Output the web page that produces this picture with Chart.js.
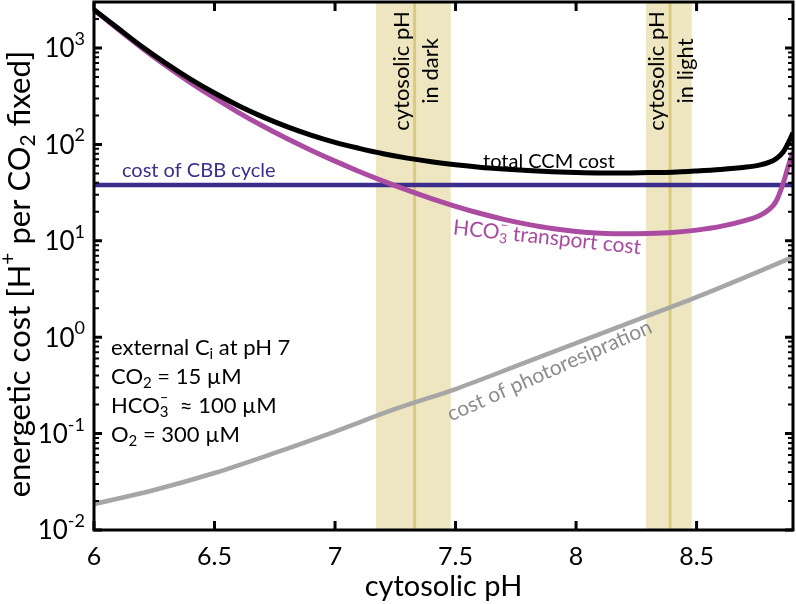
<!DOCTYPE html>
<html>
<head>
<meta charset="utf-8">
<script src="https://cdn.jsdelivr.net/npm/chart.js@4"></script>
<style>
  html, body { margin: 0; padding: 0; background: #fff; }
  #wrap { width: 796px; height: 604px; }
</style>
</head>
<body>
<div id="wrap"><canvas id="myChart"></canvas></div>
<script>
// cytosolic pH grid and costs
const phGrid = [6.0, 6.1, 6.2, 6.3, 6.4, 6.5, 6.6, 6.7, 6.8, 6.9, 7.0, 7.1, 7.2, 7.3, 7.4, 7.5, 7.6, 7.7, 7.8, 7.9, 8.0, 8.1, 8.2, 8.3, 8.4, 8.5, 8.6, 8.7, 8.76, 8.8, 8.83, 8.86, 8.88, 8.9];
const totalCost = [2500, 1600, 1030, 688, 476, 341, 252, 193, 153, 125, 105, 91, 80, 72, 66, 61.5, 58, 55.5, 53.5, 52, 51, 50.5, 50.5, 51, 51.5, 53, 55, 58, 61, 65, 71, 84, 103, 132];
const hco3Cost = [2480, 1567, 995, 650, 438, 303, 214, 155, 115, 87, 67, 52.4, 41.6, 33.5, 27.4, 22.8, 19.3, 16.7, 14.8, 13.4, 12.5, 12.0, 11.8, 11.9, 12.2, 12.9, 14.1, 16.2, 18.2, 21, 25.7, 40, 59, 83];

const phPhoto = [6.0, 6.25, 6.5, 6.75, 7.0, 7.25, 7.5, 7.75, 8.0, 8.25, 8.5, 8.75, 8.9];
const photoCost = [0.0186, 0.026, 0.039, 0.063, 0.105, 0.18, 0.29, 0.50, 0.87, 1.5, 2.6, 4.7, 6.8];

const phCbb = [6.0, 8.9];
const cbbCost = [38, 38];

// shaded pH ranges (dark, light)
const bandLow = [7.17, 8.29];
const bandHigh = [7.48, 8.48];
const bandMid = [7.33, 8.39];
const bandText = [["cytosolic pH", "in dark"], ["cytosolic pH", "in light"]];

const xTicks = [6, 6.5, 7, 7.5, 8, 8.5];
const yExponents = [-2, -1, 0, 1, 2, 3];

const FONT = 'Lato, "Open Sans", sans-serif';

function pts(xs, ys) {
    return xs.map((x, i) => ({ x: x, y: ys[i] }));
}

// text with sub/superscripts; parts are strings or {sub, sup}
function drawRich(ctx, parts, x, y, size, color, align) {
    const small = Math.round(size * 0.68);
    let total = 0;
    const widths = parts.map(p => {
        if (typeof p === 'string') {
            ctx.font = size + 'px ' + FONT;
            return ctx.measureText(p).width;
        }
        ctx.font = small + 'px ' + FONT;
        return Math.max(p.sub ? ctx.measureText(p.sub).width : 0, p.sup ? ctx.measureText(p.sup).width : 0);
    });
    widths.forEach(w => total += w);
    let cx = x;
    if (align === 'center') cx = x - total / 2;
    if (align === 'right') cx = x - total;
    ctx.fillStyle = color;
    ctx.textBaseline = 'middle';
    ctx.textAlign = 'left';
    parts.forEach((p, i) => {
        if (typeof p === 'string') {
            ctx.font = size + 'px ' + FONT;
            ctx.fillText(p, cx, y);
        } else {
            ctx.font = small + 'px ' + FONT;
            if (p.sub) ctx.fillText(p.sub, cx, y + size * 0.28);
            if (p.sup) ctx.fillText(p.sup, cx, y - size * 0.38);
        }
        cx += widths[i];
    });
}

function drawRotated(ctx, x, y, angle, fn) {
    ctx.save();
    ctx.translate(x, y);
    ctx.rotate(angle);
    fn();
    ctx.restore();
}

const decor = {
    id: 'decor',
    beforeDatasetsDraw(chart) {
        const { ctx, chartArea: a, scales: { x } } = chart;
        ctx.save();
        bandLow.forEach((lo, i) => {
            const x0 = x.getPixelForValue(lo), x1 = x.getPixelForValue(bandHigh[i]);
            ctx.fillStyle = '#eee6c0';
            ctx.fillRect(x0, a.top, x1 - x0, a.bottom - a.top);
            const xm = x.getPixelForValue(bandMid[i]);
            ctx.strokeStyle = '#dccb7e';
            ctx.lineWidth = 3;
            ctx.beginPath();
            ctx.moveTo(xm, a.top);
            ctx.lineTo(xm, a.bottom);
            ctx.stroke();
        });
        ctx.restore();
    },
    afterDatasetsDraw(chart) {
        const { ctx, chartArea: a, scales: { x, y } } = chart;
        ctx.save();

        // frame
        ctx.strokeStyle = '#000';
        ctx.lineWidth = 3;
        ctx.strokeRect(a.left, a.top, a.right - a.left, a.bottom - a.top);

        // x ticks, inward on bottom and top
        ctx.lineWidth = 3;
        xTicks.forEach(v => {
            const px = x.getPixelForValue(v);
            ctx.beginPath();
            ctx.moveTo(px, a.bottom); ctx.lineTo(px, a.bottom - 9);
            ctx.moveTo(px, a.top); ctx.lineTo(px, a.top + 9);
            ctx.stroke();
            ctx.font = '25px ' + FONT;
            ctx.fillStyle = '#000';
            ctx.textAlign = 'center';
            ctx.textBaseline = 'middle';
            ctx.fillText(String(v), px, a.bottom + 27);
        });

        // y ticks, log minor ticks, inward on left and right
        yExponents.forEach(e => {
            for (let m = 1; m < 10; m++) {
                const v = m * Math.pow(10, e);
                if (v > y.max) break;
                const py = y.getPixelForValue(v);
                const len = m === 1 ? 8 : 5;
                ctx.lineWidth = m === 1 ? 3 : 2;
                ctx.beginPath();
                ctx.moveTo(a.left, py); ctx.lineTo(a.left + len, py);
                ctx.moveTo(a.right, py); ctx.lineTo(a.right - len, py);
                ctx.stroke();
            }
            const py = y.getPixelForValue(Math.pow(10, e));
            drawRich(ctx, ['10', { sup: String(e) }], a.left - 9, py + 1, 26, '#000', 'right');
        });

        // axis titles
        drawRich(ctx, ['cytosolic pH'], (a.left + a.right) / 2, a.bottom + 57, 29, '#000', 'center');
        drawRotated(ctx, 20, 274, -Math.PI / 2, () => {
            drawRich(ctx, ['energetic cost [H', { sup: '+' }, ' per CO', { sub: '2' }, ' fixed]'], 0, 0, 31, '#000', 'center');
        });

        // band labels
        bandMid.forEach((v, i) => {
            const px = x.getPixelForValue(v);
            drawRotated(ctx, px - 13, 71, -Math.PI / 2, () => {
                drawRich(ctx, [bandText[i][0]], 0, 0, 22, '#000', 'center');
            });
            drawRotated(ctx, px + 16, 71, -Math.PI / 2, () => {
                drawRich(ctx, [bandText[i][1]], 0, 0, 22, '#000', 'center');
            });
        });

        // curve labels
        drawRich(ctx, ['cost of CBB cycle'], x.getPixelForValue(6.116), y.getPixelForValue(54), 20, '#3a2d8c', 'left');
        drawRich(ctx, ['total CCM cost'], x.getPixelForValue(7.614), y.getPixelForValue(66), 20, '#000', 'left');
        drawRotated(ctx, x.getPixelForValue(7.88), y.getPixelForValue(10.8), 0.107, () => {
            drawRich(ctx, ['HCO', { sub: '3', sup: '\u2013' }, ' transport cost'], 0, 0, 21, '#a94aa0', 'center');
        });
        drawRotated(ctx, x.getPixelForValue(7.89), y.getPixelForValue(0.45), -0.415, () => {
            drawRich(ctx, ['cost of photoresipration'], 0, 0, 21, '#8c8c8c', 'center');
        });

        // conditions
        const info = [
            ['external C', { sub: 'i' }, ' at pH 7'],
            ['CO', { sub: '2' }, ' = 15 \u00b5M'],
            ['HCO', { sub: '3', sup: '\u2013' }, '  \u2248 100 \u00b5M'],
            ['O', { sub: '2' }, ' = 300 \u00b5M']
        ];
        info.forEach((line, i) => {
            drawRich(ctx, line, 111, 348 + i * 29, 22, '#000', 'left');
        });

        ctx.restore();
    }
};

const ctx = document.getElementById('myChart').getContext('2d');
const chart = new Chart(ctx, {
    type: 'scatter',
    data: {
        datasets: [
            { label: 'total CCM cost', data: pts(phGrid, totalCost), borderColor: '#000', borderWidth: 5 },
            { label: 'HCO3- transport cost', data: pts(phGrid, hco3Cost), borderColor: '#ab4ba2', borderWidth: 5 },
            { label: 'cost of CBB cycle', data: pts(phCbb, cbbCost), borderColor: '#3a2d8c', borderWidth: 4.5 },
            { label: 'cost of photorespiration', data: pts(phPhoto, photoCost), borderColor: '#a6a6a6', borderWidth: 4.5 }
        ]
    },
    options: {
        responsive: true,
        maintainAspectRatio: false,
        animation: false,
        showLine: true,
        elements: {
            point: { radius: 0 },
            line: { cubicInterpolationMode: 'monotone', borderCapStyle: 'butt' }
        },
        layout: { padding: { left: 94, right: 3, top: 2, bottom: 74 } },
        plugins: { legend: { display: false }, tooltip: { enabled: false } },
        scales: {
            x: { type: 'linear', min: 6, max: 8.9, display: false },
            y: { type: 'logarithmic', min: 0.01, max: 3000, display: false }
        }
    },
    plugins: [decor]
});
</script>
</body>
</html>
